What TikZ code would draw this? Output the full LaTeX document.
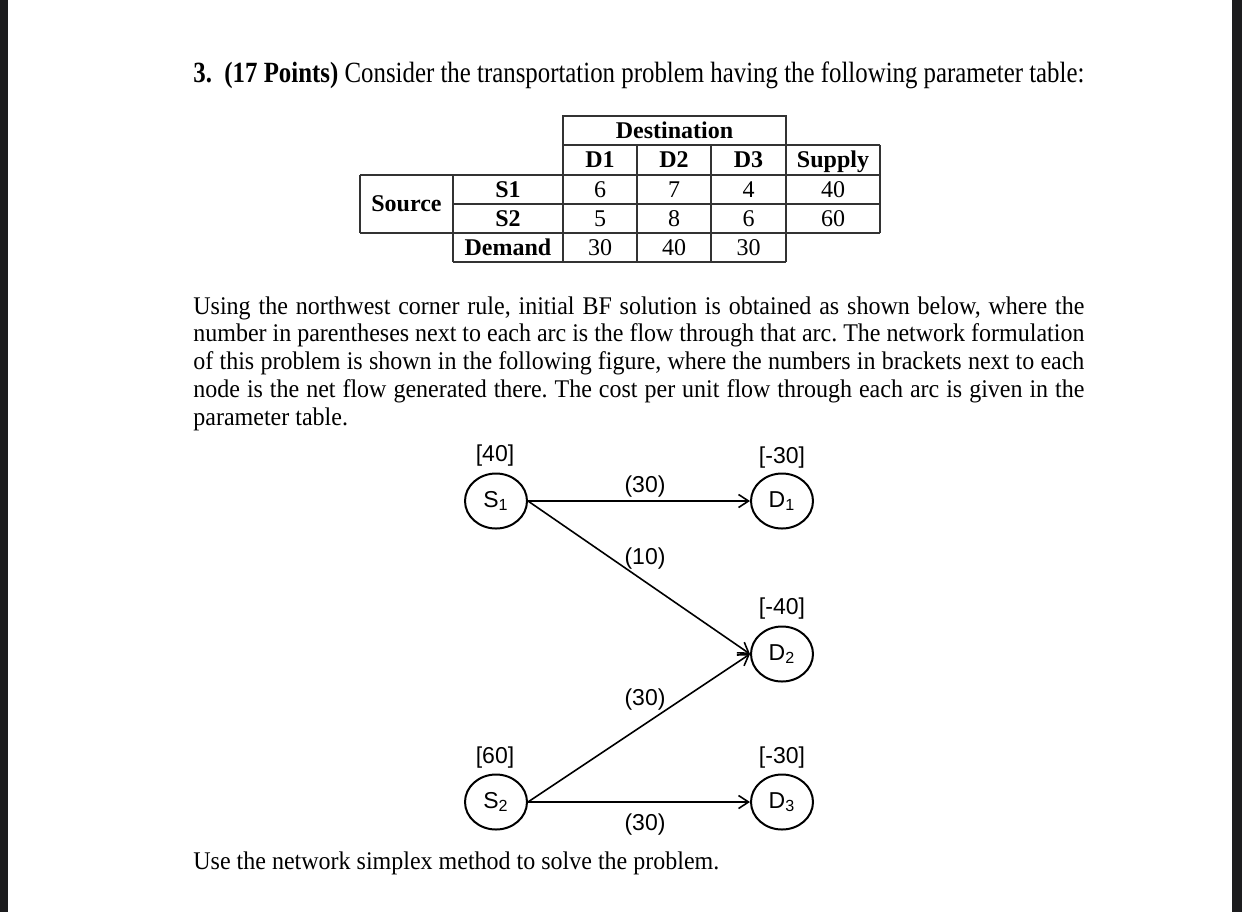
\documentclass[tikz,border=0pt]{standalone}
\usepackage{fontspec}
\setmainfont{Liberation Serif}
\newfontfamily\arialfont{Liberation Sans}
\usetikzlibrary{shapes.geometric,arrows.meta,positioning}
\definecolor{barcol}{HTML}{1C1C1E}
\frenchspacing

\begin{document}
\begin{tikzpicture}[x=0.5pt,y=-0.5pt,
  cell/.style={inner sep=0pt, text height=7.9pt, text depth=0pt,
               font=\fontsize{12}{13}\selectfont},
  hcell/.style={cell, font=\fontsize{12}{13}\selectfont\bfseries},
  grid/.style={line width=0.75pt, black!80},
  vert/.style={ellipse, draw, line width=1pt, minimum width=31pt,
               minimum height=27.5pt, inner sep=0pt,
               font=\arialfont\fontsize{11.5}{13}\selectfont},
  arrow/.style={-{Straight Barb[length=5pt,width=6.5pt]}, line width=0.8pt},
  lbl/.style={inner sep=0pt, text height=8.2pt, text depth=0pt,
              font=\arialfont\fontsize{11.5}{13}\selectfont},
  para/.style={inner sep=0pt, font=\fontsize{12}{13.2}\selectfont}
]
\useasboundingbox (0,0) rectangle (1242,912);
\fill[barcol] (0,0) rectangle (8,912);
\fill[barcol] (1232,0) rectangle (1242,912);

% heading
\node[para, anchor=base west] (title) at (193,82)
  {\scalebox{1}[1.18]{\resizebox{445.5pt}{!}{\textbf{3.}\ \ \textbf{(17 Points)} Consider the transportation problem having the following parameter table:}}};

% parameter table
\draw[grid] (563,116) rectangle (786,145);
\draw[grid] (563,145) -- (880,145);
\draw[grid] (360,175) -- (880,175);
\draw[grid] (453,204) -- (880,204);
\draw[grid] (360,233) -- (880,233);
\draw[grid] (453,262) -- (786,262);
\draw[grid] (360,175) -- (360,233);
\draw[grid] (453,175) -- (453,262);
\draw[grid] (563,145) -- (563,262);
\draw[grid] (637,145) -- (637,262);
\draw[grid] (711,145) -- (711,262);
\draw[grid] (786,145) -- (786,262);
\draw[grid] (880,145) -- (880,233);

\node[hcell] (dest) at (674.5,130.5) {Destination};
\node[hcell] (hd1) at (600,160) {D1};
\node[hcell] (hd2) at (674,160) {D2};
\node[hcell] (hd3) at (748.5,160) {D3};
\node[hcell] (hsup) at (833,160) {Supply};
\node[hcell] (src) at (406.5,204) {Source};
\node[hcell] (hs1) at (508,189.5) {S1};
\node[hcell] (hs2) at (508,218.5) {S2};
\node[hcell] (hdem) at (508,247.5) {Demand};
\node[cell] (c11) at (600,189.5) {6};
\node[cell] (c12) at (674,189.5) {7};
\node[cell] (c13) at (748.5,189.5) {4};
\node[cell] (sup1) at (833,189.5) {40};
\node[cell] (c21) at (600,218.5) {5};
\node[cell] (c22) at (674,218.5) {8};
\node[cell] (c23) at (748.5,218.5) {6};
\node[cell] (sup2) at (833,218.5) {60};
\node[cell] (dem1) at (600,247.5) {30};
\node[cell] (dem2) at (674,247.5) {40};
\node[cell] (dem3) at (748.5,247.5) {30};

% explanation
\node[para, anchor=base west] (body) at (193,314)
  {\scalebox{1}[1.06]{\parbox[t]{445.5pt}{Using the northwest corner rule, initial BF solution is obtained as shown below, where the\linebreak
   number in parentheses next to each arc is the flow through that arc. The network formulation\linebreak
   of this problem is shown in the following figure, where the numbers in brackets next to each\linebreak
   node is the net flow generated there. The cost per unit flow through each arc is given in the\linebreak
   parameter table.}}};

% network
\node[vert] (S1) at (496,501) {S\textsubscript{1}};
\node[vert] (S2) at (496,802) {S\textsubscript{2}};
\node[vert] (D1) at (782,501) {D\textsubscript{1}};
\node[vert] (D2) at (782,654) {D\textsubscript{2}};
\node[vert] (D3) at (782,802) {D\textsubscript{3}};

\node[lbl] (nS1) at (495,453) {[40]};
\node[lbl] (nS2) at (495,755) {[60]};
\node[lbl] (nD1) at (782,455) {[-30]};
\node[lbl] (nD2) at (782,606) {[-40]};
\node[lbl] (nD3) at (782,755) {[-30]};

\draw[arrow] (S1) -- (D1);
\draw[arrow] (S1.east) -- (D2.west);
\draw[arrow] (S2.east) -- (D2.west);
\draw[arrow] (S2) -- (D3);

\node[lbl] (f11) at (645,484) {(30)};
\node[lbl] (f12) at (645,556) {(10)};
\node[lbl] (f22) at (645,697) {(30)};
\node[lbl] (f23) at (645,822) {(30)};

\node[para, anchor=base west] (closing) at (193,869)
  {\scalebox{1}[1.06]{Use the network simplex method to solve the problem.}};
\end{tikzpicture}
\end{document}
